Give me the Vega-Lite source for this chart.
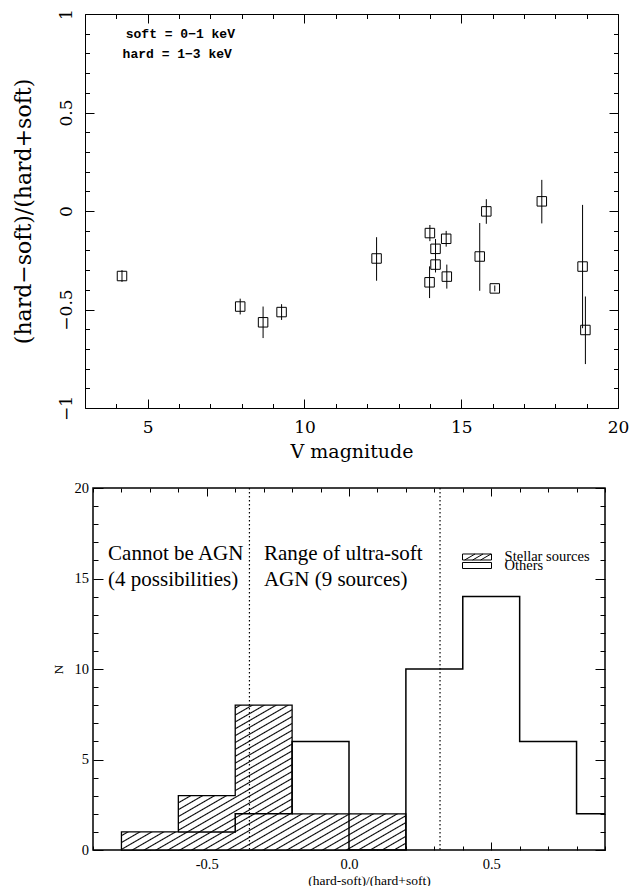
{
  "$schema": "https://vega.github.io/schema/vega-lite/v6.json",
  "padding": {"left": 11, "top": 8, "right": 5, "bottom": 0},
  "bounds": "flush",
  "spacing": 80,
  "datasets": {
    "hr": [
      {"V": 4.18, "hr": -0.33, "lo": -0.36, "hi": -0.30},
      {"V": 7.95, "hr": -0.485, "lo": -0.525, "hi": -0.445},
      {"V": 8.68, "hr": -0.565, "lo": -0.645, "hi": -0.485},
      {"V": 9.27, "hr": -0.513, "lo": -0.553, "hi": -0.473},
      {"V": 12.30, "hr": -0.241, "lo": -0.354, "hi": -0.133},
      {"V": 14.00, "hr": -0.112, "lo": -0.153, "hi": -0.071},
      {"V": 14.18, "hr": -0.192, "lo": -0.242, "hi": -0.142},
      {"V": 14.52, "hr": -0.141, "lo": -0.181, "hi": -0.101},
      {"V": 14.18, "hr": -0.272, "lo": -0.312, "hi": -0.232},
      {"V": 13.99, "hr": -0.362, "lo": -0.442, "hi": -0.281},
      {"V": 14.54, "hr": -0.333, "lo": -0.394, "hi": -0.272},
      {"V": 15.59, "hr": -0.231, "lo": -0.405, "hi": -0.061},
      {"V": 15.80, "hr": -0.002, "lo": -0.065, "hi": 0.06},
      {"V": 16.07, "hr": -0.393, "lo": -0.408, "hi": -0.378},
      {"V": 17.57, "hr": 0.049, "lo": -0.063, "hi": 0.158},
      {"V": 18.87, "hr": -0.282, "lo": -0.595, "hi": 0.031},
      {"V": 18.96, "hr": -0.604, "lo": -0.777, "hi": -0.434}
    ],
    "notesTop": [
      {"label": "soft = 0−1 keV", "x": 4.3, "y": 0.897},
      {"label": "hard = 1−3 keV", "x": 4.2, "y": 0.798}
    ],
    "hist": [
      {"source": "Stellar sources", "x": -0.8, "n": 1},
      {"source": "Stellar sources", "x": -0.6, "n": 3},
      {"source": "Stellar sources", "x": -0.4, "n": 8},
      {"source": "Stellar sources", "x": -0.2, "n": 2},
      {"source": "Stellar sources", "x": 0.0, "n": 2},
      {"source": "Stellar sources", "x": 0.2, "n": 0},
      {"source": "Others", "x": -0.6, "n": 1},
      {"source": "Others", "x": -0.4, "n": 2},
      {"source": "Others", "x": -0.2, "n": 6},
      {"source": "Others", "x": 0.0, "n": 0},
      {"source": "Others", "x": 0.2, "n": 10},
      {"source": "Others", "x": 0.4, "n": 14},
      {"source": "Others", "x": 0.6, "n": 6},
      {"source": "Others", "x": 0.8, "n": 2},
      {"source": "Others", "x": 1.0, "n": 2}
    ],
    "cuts": [{"cut": -0.35}, {"cut": 0.32}],
    "notesBottom": [
      {"label": "Cannot be AGN", "x": -0.847, "y": 16.35},
      {"label": "(4 possibilities)", "x": -0.847, "y": 14.9},
      {"label": "Range of ultra-soft", "x": -0.299, "y": 16.35},
      {"label": "AGN (9 sources)", "x": -0.299, "y": 14.9}
    ]
  },
  "vconcat": [
    {
      "width": 533,
      "height": 394,
      "view": {"stroke": "black", "strokeWidth": 1},
      "resolve": {"axis": {"x": "independent", "y": "independent"}},
      "layer": [
        {
          "data": {"name": "hr"},
          "mark": {"type": "rule", "color": "black", "strokeWidth": 1},
          "encoding": {
            "x": {
              "field": "V", "type": "quantitative",
              "scale": {"domain": [3, 20], "nice": false, "zero": false},
              "axis": {
                "orient": "bottom",
                "values": [3,4,5,6,7,8,9,10,11,12,13,14,15,16,17,18,19,20],
                "labelExpr": "datum.value % 5 === 0 ? format(datum.value, 'd') : ''",
                "tickSize": {"condition": {"test": "datum.value % 5 === 0", "value": -9}, "value": -4.5},
                "labelPadding": 20,
                "labelFont": "DejaVu Serif", "labelFontSize": 17,
                "title": "V magnitude",
                "titleFont": "DejaVu Serif", "titleFontSize": 19,
                "titleX": 266.5, "titleY": 49, "titleAlign": "center", "titleBaseline": "alphabetic"
              }
            },
            "y": {
              "field": "lo", "type": "quantitative",
              "scale": {"domain": [-1, 1], "nice": false, "zero": false},
              "axis": {
                "orient": "left",
                "values": [-1,-0.9,-0.8,-0.7,-0.6,-0.5,-0.4,-0.3,-0.2,-0.1,0,0.1,0.2,0.3,0.4,0.5,0.6,0.7,0.8,0.9,1],
                "labelExpr": "abs(datum.value*2 - round(datum.value*2)) < 0.001 ? format(datum.value, '~g') : ''",
                "tickSize": {"condition": {"test": "abs(datum.value*2 - round(datum.value*2)) < 0.001", "value": -9}, "value": -4.5},
                "labelAngle": -90, "labelAlign": "center", "labelBaseline": "bottom",
                "labelPadding": 19,
                "labelFont": "DejaVu Serif", "labelFontSize": 17,
                "title": "(hard−soft)/(hard+soft)",
                "titleFont": "DejaVu Serif", "titleFontSize": 22,
                "titleAngle": -90, "titleX": -62, "titleY": 197, "titleAlign": "center", "titleBaseline": "middle"
              }
            },
            "y2": {"field": "hi"}
          }
        },
        {
          "data": {"name": "hr"},
          "mark": {"type": "point", "shape": "square", "filled": false, "size": 90, "color": "black", "strokeWidth": 1, "opacity": 1},
          "encoding": {
            "x": {
              "field": "V", "type": "quantitative",
              "axis": {
                "orient": "top", "labels": false, "title": null,
                "values": [3,4,5,6,7,8,9,10,11,12,13,14,15,16,17,18,19,20],
                "tickSize": {"condition": {"test": "datum.value % 5 === 0", "value": -9}, "value": -4.5}
              }
            },
            "y": {
              "field": "hr", "type": "quantitative",
              "axis": {
                "orient": "right", "labels": false, "title": null,
                "values": [-1,-0.9,-0.8,-0.7,-0.6,-0.5,-0.4,-0.3,-0.2,-0.1,0,0.1,0.2,0.3,0.4,0.5,0.6,0.7,0.8,0.9,1],
                "tickSize": {"condition": {"test": "abs(datum.value*2 - round(datum.value*2)) < 0.001", "value": -9}, "value": -4.5}
              }
            }
          }
        },
        {
          "data": {"name": "notesTop"},
          "mark": {"type": "text", "font": "Liberation Mono", "fontWeight": "bold", "fontSize": 13, "align": "left", "baseline": "middle", "color": "black"},
          "encoding": {
            "x": {"field": "x", "type": "quantitative", "axis": null},
            "y": {"field": "y", "type": "quantitative", "axis": null},
            "text": {"field": "label"}
          }
        }
      ]
    },
    {
      "hconcat": [
        {
          "width": 8,
          "height": 10,
          "view": {"stroke": null},
          "data": {"values": [{}]},
          "mark": {"type": "point", "opacity": 0}
        },
        {
          "width": 512,
          "height": 362,
          "view": {"stroke": "black", "strokeWidth": 1.5},
          "resolve": {"axis": {"x": "independent", "y": "independent"}},
          "layer": [
            {
              "data": {"name": "hist"},
              "transform": [{"filter": "datum.source === 'Stellar sources'"}],
              "mark": {
                "type": "area", "interpolate": "step-after", "stroke": "black", "strokeWidth": 1.3,
                "fill": {
                  "gradient": "linear", "x1": 0, "y1": 0, "x2": 1.0587, "y2": 0.9336,
                  "stops": [
                    {"offset": 0, "color": "#000"}, {"offset": 0.004, "color": "#fff"},
                    {"offset": 0.0182, "color": "#fff"}, {"offset": 0.0222, "color": "#000"}, {"offset": 0.0262, "color": "#fff"},
                    {"offset": 0.0404, "color": "#fff"}, {"offset": 0.0444, "color": "#000"}, {"offset": 0.0484, "color": "#fff"},
                    {"offset": 0.0627, "color": "#fff"}, {"offset": 0.0667, "color": "#000"}, {"offset": 0.0707, "color": "#fff"},
                    {"offset": 0.0849, "color": "#fff"}, {"offset": 0.0889, "color": "#000"}, {"offset": 0.0929, "color": "#fff"},
                    {"offset": 0.1071, "color": "#fff"}, {"offset": 0.1111, "color": "#000"}, {"offset": 0.1151, "color": "#fff"},
                    {"offset": 0.1293, "color": "#fff"}, {"offset": 0.1333, "color": "#000"}, {"offset": 0.1373, "color": "#fff"},
                    {"offset": 0.1516, "color": "#fff"}, {"offset": 0.1556, "color": "#000"}, {"offset": 0.1596, "color": "#fff"},
                    {"offset": 0.1738, "color": "#fff"}, {"offset": 0.1778, "color": "#000"}, {"offset": 0.1818, "color": "#fff"},
                    {"offset": 0.196, "color": "#fff"}, {"offset": 0.2, "color": "#000"}, {"offset": 0.204, "color": "#fff"},
                    {"offset": 0.2182, "color": "#fff"}, {"offset": 0.2222, "color": "#000"}, {"offset": 0.2262, "color": "#fff"},
                    {"offset": 0.2404, "color": "#fff"}, {"offset": 0.2444, "color": "#000"}, {"offset": 0.2484, "color": "#fff"},
                    {"offset": 0.2627, "color": "#fff"}, {"offset": 0.2667, "color": "#000"}, {"offset": 0.2707, "color": "#fff"},
                    {"offset": 0.2849, "color": "#fff"}, {"offset": 0.2889, "color": "#000"}, {"offset": 0.2929, "color": "#fff"},
                    {"offset": 0.3071, "color": "#fff"}, {"offset": 0.3111, "color": "#000"}, {"offset": 0.3151, "color": "#fff"},
                    {"offset": 0.3293, "color": "#fff"}, {"offset": 0.3333, "color": "#000"}, {"offset": 0.3373, "color": "#fff"},
                    {"offset": 0.3516, "color": "#fff"}, {"offset": 0.3556, "color": "#000"}, {"offset": 0.3596, "color": "#fff"},
                    {"offset": 0.3738, "color": "#fff"}, {"offset": 0.3778, "color": "#000"}, {"offset": 0.3818, "color": "#fff"},
                    {"offset": 0.396, "color": "#fff"}, {"offset": 0.4, "color": "#000"}, {"offset": 0.404, "color": "#fff"},
                    {"offset": 0.4182, "color": "#fff"}, {"offset": 0.4222, "color": "#000"}, {"offset": 0.4262, "color": "#fff"},
                    {"offset": 0.4404, "color": "#fff"}, {"offset": 0.4444, "color": "#000"}, {"offset": 0.4484, "color": "#fff"},
                    {"offset": 0.4627, "color": "#fff"}, {"offset": 0.4667, "color": "#000"}, {"offset": 0.4707, "color": "#fff"},
                    {"offset": 0.4849, "color": "#fff"}, {"offset": 0.4889, "color": "#000"}, {"offset": 0.4929, "color": "#fff"},
                    {"offset": 0.5071, "color": "#fff"}, {"offset": 0.5111, "color": "#000"}, {"offset": 0.5151, "color": "#fff"},
                    {"offset": 0.5293, "color": "#fff"}, {"offset": 0.5333, "color": "#000"}, {"offset": 0.5373, "color": "#fff"},
                    {"offset": 0.5516, "color": "#fff"}, {"offset": 0.5556, "color": "#000"}, {"offset": 0.5596, "color": "#fff"},
                    {"offset": 0.5738, "color": "#fff"}, {"offset": 0.5778, "color": "#000"}, {"offset": 0.5818, "color": "#fff"},
                    {"offset": 0.596, "color": "#fff"}, {"offset": 0.6, "color": "#000"}, {"offset": 0.604, "color": "#fff"},
                    {"offset": 0.6182, "color": "#fff"}, {"offset": 0.6222, "color": "#000"}, {"offset": 0.6262, "color": "#fff"},
                    {"offset": 0.6404, "color": "#fff"}, {"offset": 0.6444, "color": "#000"}, {"offset": 0.6484, "color": "#fff"},
                    {"offset": 0.6627, "color": "#fff"}, {"offset": 0.6667, "color": "#000"}, {"offset": 0.6707, "color": "#fff"},
                    {"offset": 0.6849, "color": "#fff"}, {"offset": 0.6889, "color": "#000"}, {"offset": 0.6929, "color": "#fff"},
                    {"offset": 0.7071, "color": "#fff"}, {"offset": 0.7111, "color": "#000"}, {"offset": 0.7151, "color": "#fff"},
                    {"offset": 0.7293, "color": "#fff"}, {"offset": 0.7333, "color": "#000"}, {"offset": 0.7373, "color": "#fff"},
                    {"offset": 0.7516, "color": "#fff"}, {"offset": 0.7556, "color": "#000"}, {"offset": 0.7596, "color": "#fff"},
                    {"offset": 0.7738, "color": "#fff"}, {"offset": 0.7778, "color": "#000"}, {"offset": 0.7818, "color": "#fff"},
                    {"offset": 0.796, "color": "#fff"}, {"offset": 0.8, "color": "#000"}, {"offset": 0.804, "color": "#fff"},
                    {"offset": 0.8182, "color": "#fff"}, {"offset": 0.8222, "color": "#000"}, {"offset": 0.8262, "color": "#fff"},
                    {"offset": 0.8404, "color": "#fff"}, {"offset": 0.8444, "color": "#000"}, {"offset": 0.8484, "color": "#fff"},
                    {"offset": 0.8627, "color": "#fff"}, {"offset": 0.8667, "color": "#000"}, {"offset": 0.8707, "color": "#fff"},
                    {"offset": 0.8849, "color": "#fff"}, {"offset": 0.8889, "color": "#000"}, {"offset": 0.8929, "color": "#fff"},
                    {"offset": 0.9071, "color": "#fff"}, {"offset": 0.9111, "color": "#000"}, {"offset": 0.9151, "color": "#fff"},
                    {"offset": 0.9293, "color": "#fff"}, {"offset": 0.9333, "color": "#000"}, {"offset": 0.9373, "color": "#fff"},
                    {"offset": 0.9516, "color": "#fff"}, {"offset": 0.9556, "color": "#000"}, {"offset": 0.9596, "color": "#fff"},
                    {"offset": 0.9738, "color": "#fff"}, {"offset": 0.9778, "color": "#000"}, {"offset": 0.9818, "color": "#fff"},
                    {"offset": 0.996, "color": "#fff"}, {"offset": 1, "color": "#000"}
                  ]
                }
              },
              "encoding": {
                "x": {
                  "field": "x", "type": "quantitative",
                  "scale": {"domain": [-0.9, 0.9], "nice": false, "zero": false},
                  "axis": {
                    "orient": "bottom",
                    "values": [-0.9,-0.8,-0.7,-0.6,-0.5,-0.4,-0.3,-0.2,-0.1,0,0.1,0.2,0.3,0.4,0.5,0.6,0.7,0.8,0.9],
                    "labelExpr": "abs(datum.value*2 - round(datum.value*2)) < 0.001 ? replace(format(datum.value, '.1f'), '−', '-') : ''",
                    "tickSize": {"condition": {"test": "abs(datum.value*2 - round(datum.value*2)) < 0.001", "value": -8}, "value": -4},
                    "labelPadding": 15,
                    "labelFont": "Liberation Serif", "labelFontSize": 14.5,
                    "title": "(hard-soft)/(hard+soft)",
                    "titleFont": "Liberation Serif", "titleFontSize": 13.5,
                    "titleX": 276, "titleY": 34, "titleAlign": "center", "titleBaseline": "alphabetic"
                  }
                },
                "y": {
                  "field": "n", "type": "quantitative", "stack": null,
                  "scale": {"domain": [0, 20], "nice": false, "zero": false},
                  "axis": {
                    "orient": "left",
                    "values": [0,1,2,3,4,5,6,7,8,9,10,11,12,13,14,15,16,17,18,19,20],
                    "labelExpr": "datum.value % 5 === 0 ? format(datum.value, 'd') : ''",
                    "tickSize": {"condition": {"test": "datum.value % 5 === 0", "value": -10}, "value": -5},
                    "labelPadding": 14.5,
                    "labelFont": "Liberation Serif", "labelFontSize": 14.5,
                    "title": "N",
                    "titleFont": "Liberation Serif", "titleFontSize": 13.5,
                    "titleAngle": -90, "titleX": -34.5, "titleY": 181, "titleAlign": "center", "titleBaseline": "middle"
                  }
                }
              }
            },
            {
              "data": {"name": "hist"},
              "transform": [{"filter": "datum.source === 'Others'"}],
              "mark": {"type": "line", "interpolate": "step-after", "strokeWidth": 1.5, "clip": true},
              "encoding": {
                "x": {
                  "field": "x", "type": "quantitative",
                  "axis": {
                    "orient": "top", "labels": false, "title": null,
                    "values": [-0.9,-0.8,-0.7,-0.6,-0.5,-0.4,-0.3,-0.2,-0.1,0,0.1,0.2,0.3,0.4,0.5,0.6,0.7,0.8,0.9],
                    "tickSize": {"condition": {"test": "abs(datum.value*2 - round(datum.value*2)) < 0.001", "value": -8}, "value": -4}
                  }
                },
                "y": {
                  "field": "n", "type": "quantitative",
                  "axis": {
                    "orient": "right", "labels": false, "title": null,
                    "values": [0,1,2,3,4,5,6,7,8,9,10,11,12,13,14,15,16,17,18,19,20],
                    "tickSize": {"condition": {"test": "datum.value % 5 === 0", "value": -10}, "value": -5}
                  }
                },
                "stroke": {
                  "field": "source", "type": "nominal",
                  "scale": {"domain": ["Stellar sources", "Others"], "range": ["black", "black"]},
                  "legend": {
                    "orient": "none", "legendX": 377, "legendY": 528, "title": null, "padding": 0,
                    "labelFont": "Liberation Serif", "labelFontSize": 14.5, "labelColor": "black",
                    "labelOffset": 12.6, "symbolSize": 841, "rowPadding": -22,
                    "encode": {
                      "symbols": {
                        "update": {
                          "shape": {"signal": "datum.value === 'Stellar sources' ? 'M-1,-0.207H1V0.207H-1Z M-0.85,0.207L-0.133,-0.207 M-0.3,0.207L0.417,-0.207 M0.25,0.207L0.967,-0.207' : 'M-1,-1.138H1V-0.724H-1Z'"},
                          "fill": {"value": "transparent"},
                          "stroke": {"value": "black"},
                          "strokeWidth": {"value": 1},
                          "opacity": {"value": 1}
                        }
                      },
                      "labels": {
                        "update": {
                          "dy": {"signal": "datum.value === 'Others' ? -13.5 : 0"}
                        }
                      }
                    }
                  }
                }
              }
            },
            {
              "data": {"name": "cuts"},
              "mark": {"type": "rule", "color": "black", "strokeWidth": 1.2, "strokeDash": [1.5, 2.5]},
              "encoding": {
                "x": {"field": "cut", "type": "quantitative", "axis": null}
              }
            },
            {
              "data": {"name": "notesBottom"},
              "mark": {"type": "text", "font": "Liberation Serif", "fontSize": 21, "align": "left", "baseline": "middle", "color": "black"},
              "encoding": {
                "x": {"field": "x", "type": "quantitative", "axis": null},
                "y": {"field": "y", "type": "quantitative", "axis": null},
                "text": {"field": "label"}
              }
            }
          ]
        }
      ],
      "spacing": 0,
      "bounds": "flush"
    }
  ],
  "config": {
    "axis": {
      "domain": false, "grid": false,
      "tickColor": "black", "tickWidth": 1,
      "labelColor": "black", "titleColor": "black", "titleFontWeight": "normal",
      "labelOverlap": false, "labelFlush": false, "labelBound": false
    }
  }
}
